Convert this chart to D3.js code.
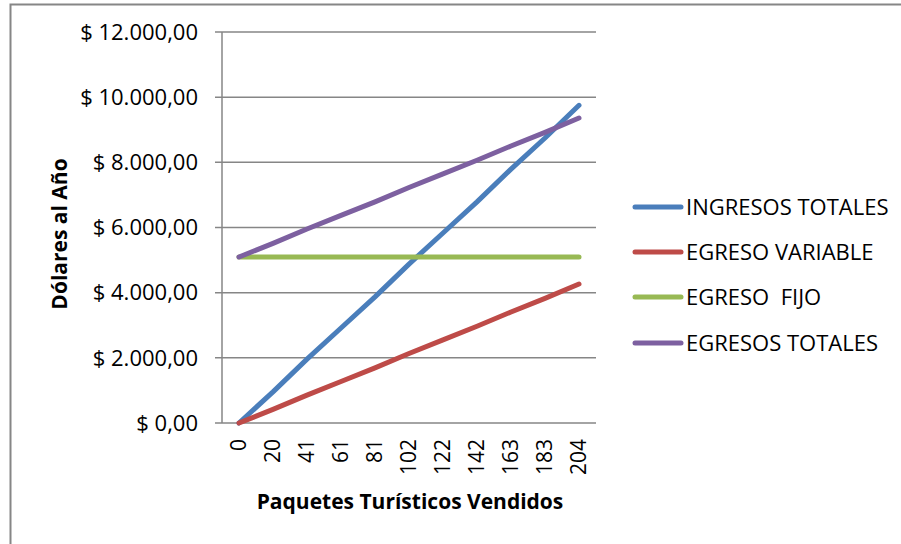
<!DOCTYPE html>
<html>
<head>
<meta charset="utf-8">
<script src="https://cdn.jsdelivr.net/npm/d3@7"></script>
<style>
  body { margin: 0; background: #fff; }
  text { font-family: "Open Sans", Lato, sans-serif; fill: #000; }
</style>
</head>
<body>
<div id="chart"></div>
<script>
// categories (paquetes vendidos)
var paquetes = ["0", "20", "41", "61", "81", "102", "122", "142", "163", "183", "204"];

// series values
var ingresosTotales = [0, 956, 1960, 2916, 3872, 4876, 5832, 6788, 7791, 8747, 9751];
var egresoVariable  = [0, 418, 857, 1275, 1693, 2132, 2550, 2968, 3407, 3825, 4264];
var egresoFijo      = [5095, 5095, 5095, 5095, 5095, 5095, 5095, 5095, 5095, 5095, 5095];
var egresosTotales  = [5095, 5513, 5952, 6370, 6788, 7227, 7645, 8063, 8502, 8920, 9359];

var yTicks = [0, 2000, 4000, 6000, 8000, 10000, 12000];

var seriesNames = ["INGRESOS TOTALES", "EGRESO VARIABLE", "EGRESO  FIJO", "EGRESOS TOTALES"];
var seriesColors = ["#4a7ebb", "#be4b48", "#98b954", "#7d60a0"];

(function() {
    var width = 901, height = 544;
    var fs = "22px";       // ticks + legend
    var fsTitle = "21px";  // axis titles (bold)

    var svg = d3.select("#chart").append("svg")
        .attr("width", width)
        .attr("height", height);

    // outer chart border (runs off right/bottom edge)
    svg.append("rect")
        .attr("x", 10.5).attr("y", 4.5)
        .attr("width", 900).attr("height", 560)
        .attr("fill", "none")
        .attr("stroke", "#868686")
        .attr("stroke-width", 2);

    var left = 222, right = 596, top = 32, bottom = 423;

    var x = d3.scaleBand().domain(paquetes).range([left, right]);
    var y = d3.scaleLinear().domain([0, 12000]).range([bottom, top]);

    var fmt = function(v) {
        var s = d3.format(",.2f")(v);
        // spanish style: thousands ".", decimals ","
        s = s.replace(/,/g, "#").replace(/\./g, ",").replace(/#/g, ".");
        return "$ " + s;
    };

    // gridlines + y ticks
    var yAxis = svg.append("g");
    yAxis.selectAll("line.grid")
        .data(yTicks)
        .enter().append("line")
        .attr("x1", left - 7).attr("x2", right)
        .attr("y1", function(d) { return y(d); })
        .attr("y2", function(d) { return y(d); })
        .attr("stroke", "#868686")
        .attr("stroke-width", 1.5);

    yAxis.selectAll("text")
        .data(yTicks)
        .enter().append("text")
        .attr("x", 198)
        .attr("y", function(d) { return y(d); })
        .attr("dy", "0.35em")
        .attr("text-anchor", "end")
        .style("font-size", fs)
        .text(fmt);

    // vertical axis line
    svg.append("line")
        .attr("x1", left).attr("x2", left)
        .attr("y1", top).attr("y2", bottom)
        .attr("stroke", "#868686")
        .attr("stroke-width", 1.5);

    // x tick labels, rotated
    svg.append("g").selectAll("text")
        .data(paquetes)
        .enter().append("text")
        .attr("transform", function(d) {
            return "translate(" + (x(d) + x.bandwidth() / 2) + ",439) rotate(-90)";
        })
        .attr("dy", "0.35em")
        .attr("text-anchor", "end")
        .style("font-size", "21px")
        .text(function(d) { return d; });

    // axis titles
    svg.append("text")
        .attr("x", 410).attr("y", 509)
        .attr("text-anchor", "middle")
        .style("font-size", fsTitle)
        .style("font-weight", "bold")
        .text("Paquetes Turísticos Vendidos");

    svg.append("text")
        .attr("transform", "translate(67,234) rotate(-90)")
        .attr("text-anchor", "middle")
        .style("font-size", fsTitle)
        .style("font-weight", "bold")
        .text("Dólares al Año");

    var allSeries = [ingresosTotales, egresoVariable, egresoFijo, egresosTotales];

    var line = d3.line()
        .x(function(d, i) { return x(paquetes[i]) + x.bandwidth() / 2; })
        .y(function(d) { return y(d); });

    svg.append("g").selectAll("path")
        .data(allSeries)
        .enter().append("path")
        .attr("d", line)
        .attr("fill", "none")
        .attr("stroke", function(d, i) { return seriesColors[i]; })
        .attr("stroke-width", 5)
        .attr("stroke-linecap", "round")
        .attr("stroke-linejoin", "round");

    // legend
    var legendY = [207, 252, 297, 343];
    var legend = svg.append("g").selectAll("g")
        .data(seriesNames)
        .enter().append("g")
        .attr("transform", function(d, i) { return "translate(0," + legendY[i] + ")"; });

    legend.append("line")
        .attr("x1", 635).attr("x2", 681)
        .attr("stroke", function(d, i) { return seriesColors[i]; })
        .attr("stroke-width", 5)
        .attr("stroke-linecap", "round");

    legend.append("text")
        .attr("x", 686)
        .attr("dy", "0.35em")
        .style("font-size", fs)
        .style("white-space", "pre")
        .text(function(d) { return d; });
})();
</script>
</body>
</html>
